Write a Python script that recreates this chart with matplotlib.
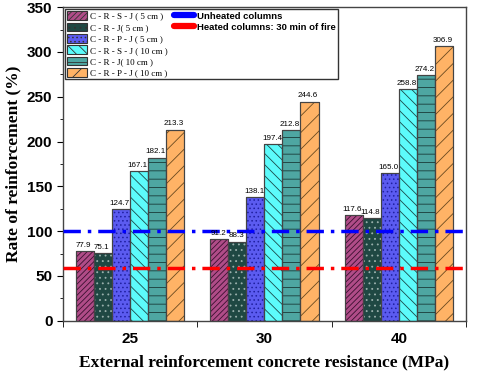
#!/usr/bin/env python
import numpy as np
import matplotlib
matplotlib.use('Agg')
import matplotlib.pyplot as plt
from matplotlib.patches import Patch
from matplotlib.lines import Line2D

# data
groups = ['25', '30', '40']
series = ['C - R - S - J ( 5 cm )', 'C - R - J( 5 cm )', 'C - R - P - J ( 5 cm )',
          'C - R - S - J ( 10 cm )', 'C - R - J( 10 cm )', 'C - R - P - J ( 10 cm )']
crsj5 = [77.9, 91.2, 117.6]
crj5 = [75.1, 88.3, 114.8]
crpj5 = [124.7, 138.1, 165.0]
crsj10 = [167.1, 197.4, 258.8]
crj10 = [182.1, 212.8, 274.2]
crpj10 = [213.3, 244.6, 306.9]
unheated = 100
heated = 58.5

vals = [crsj5, crj5, crpj5, crsj10, crj10, crpj10]
faces = ['#b04c88', '#1f4843', '#5b5bf0', '#5cfbfb', '#4ea6a2', '#ffb366']
hatches = ['//////', '...', '....', '\\\\\\', '--', '//']
hcols = ['#3a1030', '#9ab0ac', '#2020a0', '#1a4a4a', '#1a3a38', '#6a4a20']

plt.rcParams['hatch.linewidth'] = 0.6
fig = plt.figure(figsize=(4.8, 3.71), dpi=100)
ax = fig.add_axes([0.131, 0.1356, 0.84, 0.845])

x = np.arange(len(groups))
w = 0.134
handles = []
for i, v in enumerate(vals):
    xs = x + (i - 2.5) * w
    ax.bar(xs, v, w, color=faces[i], edgecolor='#444444', linewidth=0.8, zorder=2)
    ax.bar(xs, v, w, color='none', edgecolor=hcols[i], hatch=hatches[i], linewidth=0, zorder=2.1)
    ax.bar(xs, v, w, color='none', edgecolor='#444444', linewidth=0.8, zorder=2.2)
    for xx, vv in zip(xs, v):
        ax.text(xx - 0.01, vv + 2.5, '%.1f' % vv, ha='center', va='bottom', fontsize=5.8,
                family='Liberation Sans', zorder=4)
    handles.append(Patch(facecolor=faces[i], edgecolor='#333333', hatch=hatches[i], linewidth=0.8))

ax.axhline(unheated, color='#0000ff', lw=2.5, ls=(0, (5, 2, 1, 2)), zorder=3)
ax.axhline(heated, color='#ff0000', lw=2.5, ls=(0, (5, 2, 1, 2)), zorder=3)

blank = Patch(facecolor='none', edgecolor='none')
lh = [Line2D([], [], color='#0000ff', lw=4.5, solid_capstyle='round'),
      Line2D([], [], color='#ff0000', lw=4.5, solid_capstyle='round')]
leg = ax.legend(handles + lh + [blank] * 4,
                series + ['Unheated columns', 'Heated columns: 30 min of fire'] + [''] * 4,
                ncol=2, loc='upper left', bbox_to_anchor=(0.0, 1.0), fancybox=False,
                edgecolor='#333333', framealpha=1, handlelength=2.2, handleheight=1.1,
                labelspacing=0.22, columnspacing=0.8, handletextpad=0.3, borderpad=0.2,
                borderaxespad=0.25, prop={'family': 'Liberation Serif', 'size': 6.5})
leg.get_frame().set_linewidth(1.0)
for t in leg.get_texts()[6:8]:
    t.set_family('Liberation Sans')
    t.set_fontweight('bold')
    t.set_fontsize(6.8)

ax.set_xlim(-0.5, 2.5)
ax.set_ylim(0, 350)
ax.set_xticks(x)
ax.set_xticklabels(groups)
ax.set_xticks([-0.5, 0.5, 1.5, 2.5], minor=True)
ax.tick_params(axis='x', which='major', length=0, pad=8)
ax.tick_params(axis='x', which='minor', length=4, direction='out')
ax.set_yticks(np.arange(0, 351, 50))
ax.set_yticks(np.arange(0, 351, 25), minor=True)
ax.tick_params(axis='y', which='major', length=4, direction='out')
ax.tick_params(axis='y', which='minor', length=2, direction='out')
for lab in ax.get_xticklabels() + ax.get_yticklabels():
    lab.set_family('Liberation Sans')
    lab.set_fontweight('bold')
    lab.set_fontsize(11)
for s in ax.spines.values():
    s.set_color('#444444')
    s.set_linewidth(1.0)

ax.set_ylabel('Rate of reinforcement (%)', family='Liberation Serif', fontweight='bold',
              fontsize=12.5, labelpad=4)
ax.set_xlabel('External reinforcement concrete resistance (MPa)', family='Liberation Serif',
              fontweight='bold', fontsize=12.5, labelpad=6)

fig.savefig('out.png', dpi=100)
